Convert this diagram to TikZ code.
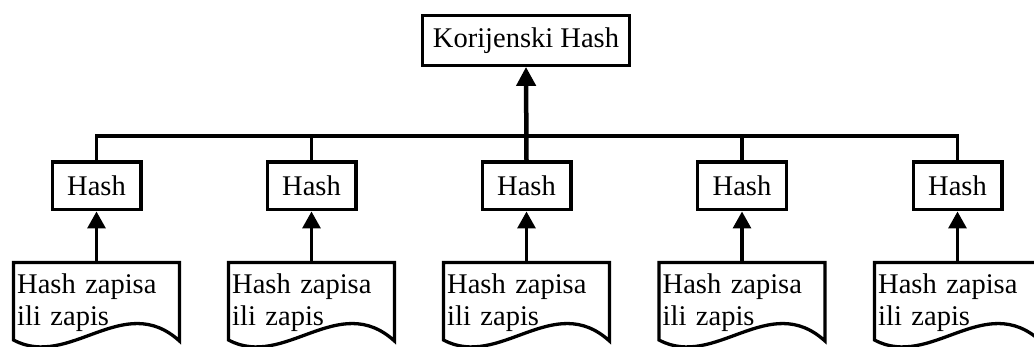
\documentclass[tikz,border=0pt]{standalone}
\usepackage{fontspec}
\setmainfont{Liberation Serif}
\usetikzlibrary{arrows.meta,calc}
\tikzset{
  hashbox/.style={draw, line width=3.3pt, fill=white, minimum width=88.7pt, minimum height=47.7pt, inner sep=0pt, font=\fontsize{28.5}{32}\selectfont},
  rootbox/.style={draw, line width=3.3pt, fill=white, minimum width=207.6pt, minimum height=49.6pt, inner sep=0pt, font=\fontsize{28.5}{32}\selectfont},
  doctext/.style={anchor=north west, inner xsep=3.5pt, inner ysep=11pt, text width=159pt, align=left, font=\fontsize{28.5}{32}\selectfont},
  docline/.style={line width=3.3pt, fill=white, line join=miter},
  link/.style={line width=3.3pt},
  uparrow/.style={line width=3.3pt, -{Triangle[length=17pt,width=18pt]}},
  rootarrow/.style={line width=4.5pt, -{Triangle[length=19pt,width=19pt]}}
}
\begin{document}
\begin{tikzpicture}[x=1pt,y=-1pt]
\useasboundingbox (0,0) rectangle (1034,347);
\clip (0,0) rectangle (1034,347);
\fill[white] (0,0) rectangle (1034,347);
% root
\node[rootbox] (root) at (526,40.5) {Korijenski Hash};
% hash boxes
\foreach \i/\x in {1/96.5,2/311.5,3/526.5,4/742,5/957.5}{
  \node[hashbox] (h\i) at (\x,186) {Hash};
  \pgfmathsetmacro{\xl}{\x-83}
  \pgfmathsetmacro{\xr}{\x+83}
  \draw[docline] (\xl,262.5) -- (\xr,262.5) -- (\xr,341)
     .. controls (\xr-56,290) and (\xl+56,370) .. (\xl,340) -- cycle;
  \node[doctext] (d\i) at (\xl,262.5) {Hash zapisa\\ili zapis};
  \draw[uparrow] (d\i.north -| h\i.south) -- (h\i.south);
}
\coordinate (bus) at (526.5,136);
\draw[link] (h1.north) -- (h1.north |- bus) -- (h5.north |- bus) -- (h5.north);
\draw[link] (h2.north) -- (h2.north |- bus);
\draw[link] (h4.north) -- (h4.north |- bus);
\draw[rootarrow] (h3.north) -- (root.south);
\end{tikzpicture}
\end{document}
